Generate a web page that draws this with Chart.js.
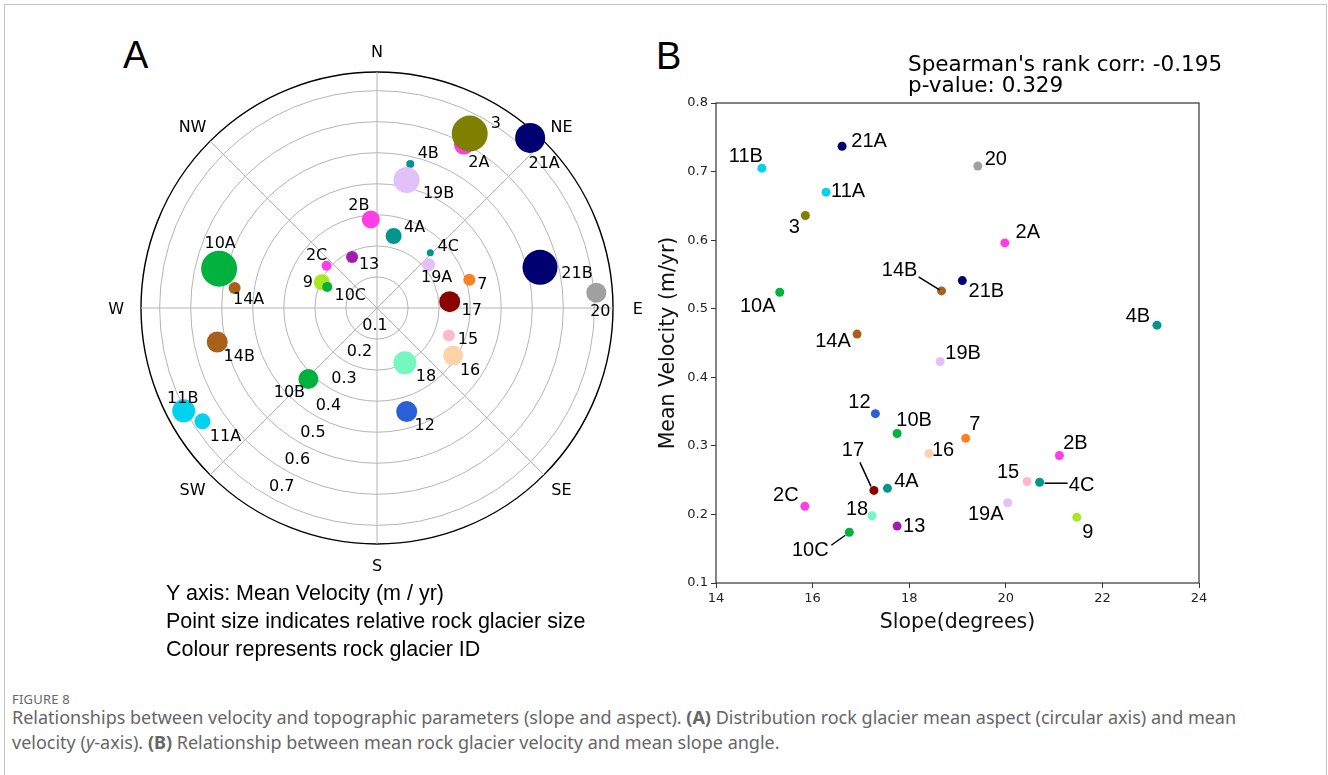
<!DOCTYPE html>
<html>
<head>
<meta charset="utf-8">
<title>Figure 8 - velocity vs aspect and slope</title>
<script src="https://cdn.jsdelivr.net/npm/chart.js"></script>
<style>
  body { margin: 0; width: 1328px; height: 775px; background: #fff; position: relative; overflow: hidden;
         font-family: "Liberation Sans", Arial, sans-serif; color: #000; }
  .frame { position: absolute; left: 4px; top: 4px; width: 1321px; height: 820px; border: 1px solid #c4c4c4; }
  .abs { position: absolute; white-space: nowrap; }
  .panel { font-size: 38px; line-height: 38px; }
  .notes { left: 166px; top: 580px; font-size: 21.5px; line-height: 27.8px; }
  .stats { left: 908px; top: 53px; font-family: "DejaVu Sans"; font-size: 21.5px; line-height: 21px; }
  canvas { position: absolute; }
  .fig { left: 12px; top: 691px; font-family: "Noto Sans"; font-size: 13px; line-height: 16px; color: #666; letter-spacing: 0.2px; }
  .cap { left: 12px; top: 705px; font-family: "Noto Sans"; font-size: 18px; line-height: 25px; color: #666; letter-spacing: 0px; }
</style>
</head>
<body>
<div class="frame"></div>

<div class="abs panel" style="left:123px; top:36px;">A</div>
<div class="abs panel" style="left:656px; top:37px;">B</div>

<canvas id="polar" width="560" height="560" style="left:97px; top:28px;"></canvas>
<canvas id="slope" width="580" height="545" style="left:640px; top:90px;"></canvas>

<div class="abs notes">Y axis: Mean Velocity (m / yr)<br>Point size indicates relative rock glacier size<br>Colour represents rock glacier ID</div>
<div class="abs stats">Spearman's rank corr: -0.195<br>p-value: 0.329</div>

<div class="abs fig">FIGURE 8</div>
<div class="abs cap">Relationships between velocity and topographic parameters (slope and aspect). <b>(A)</b> Distribution rock glacier mean aspect (circular axis) and mean<br>velocity (<i>y</i>-axis). <b>(B)</b> Relationship between mean rock glacier velocity and mean slope angle.</div>

<script>
// rock glacier data
const ids       = ['2A','2B','2C','3','4A','4B','4C','7','9','10A','10B','10C','11A','11B','12','13','14A','14B','15','16','17','18','19A','19B','20','21A','21B'];
const aspectDeg = [28, 356, 310, 28, 13, 13, 44, 73, 295, 284, 224, 293, 237, 242, 164, 334, 278, 258, 111, 122, 85, 153, 50, 13, 86, 42, 76];
const velocity  = [0.596, 0.286, 0.212, 0.636, 0.238, 0.476, 0.247, 0.311, 0.196, 0.524, 0.318, 0.174, 0.670, 0.705, 0.347, 0.183, 0.463, 0.526, 0.248, 0.289, 0.235, 0.198, 0.217, 0.423, 0.708, 0.737, 0.541];
const slopeDeg  = [19.98, 21.11, 15.84, 15.85, 17.55, 23.13, 20.70, 19.17, 21.47, 15.32, 17.75, 16.76, 16.28, 14.95, 17.30, 17.75, 16.92, 18.67, 20.44, 18.41, 17.27, 17.23, 20.04, 18.64, 19.42, 16.61, 19.10];
const relSize   = [10, 9, 5, 18, 8, 4, 3.5, 6, 8, 18, 10, 5, 8, 11.5, 10.5, 6, 6, 10.5, 6, 10, 10.5, 11.5, 6.5, 13, 10, 15, 17.5];

const compassLabels = ['N', 'NE', 'E', 'SE', 'S', 'SW', 'W', 'NW'];
const ringTicks = [0.1, 0.2, 0.3, 0.4, 0.5, 0.6, 0.7];
const angleLabels = Array.from({length: 360}, (_, i) => i);

const colours = {
  '2A': '#ff3ee8', '2B': '#ff3ee8', '2C': '#ff3ee8', '3': '#808000',
  '4A': '#00968c', '4B': '#00968c', '4C': '#00968c', '7': '#ff8020', '9': '#a8e81e',
  '10A': '#00b13e', '10B': '#00b13e', '10C': '#00b13e', '11A': '#00d2f0', '11B': '#00d2f0',
  '12': '#2a5fd8', '13': '#a21caf', '14A': '#a8601a', '14B': '#a8601a', '15': '#ffb8cc',
  '16': '#ffd3a8', '17': '#8b0000', '18': '#76f7c0', '19A': '#e2c0f8', '19B': '#e2c0f8',
  '20': '#a0a0a0', '21A': '#000070', '21B': '#000070'
};

// label offsets (px from the marker centre)
const offA = {
  '3': [26, -10], '2A': [15, 18], '21A': [14, 26], '4B': [18, -10], '19B': [32, 14], '2B': [-12, -14],
  '4A': [21, -8], '4C': [18, -6], '19A': [8, 13], '13': [17, 8], '2C': [-10, -10], '9': [-14, 1],
  '10C': [23, 9], '10A': [1, -25], '14A': [14, 12], '14B': [22, 15], '10B': [-19, 14], '11B': [-1, -12],
  '11A': [23, 16], '12': [18, 14], '18': [21, 14], '16': [17, 15], '15': [19, 4], '17': [22, 9],
  '7': [13, 5], '21B': [37, 6], '20': [4, 19]
};
const offB = {
  '11B': [-16, -12], '21A': [27, -5], '20': [18, -7], '11A': [22, -1], '3': [-11, 12], '2A': [23, -10],
  '14B': [-42, -20], '21B': [24, 11], '10A': [-22, 14], '4B': [-19, -9], '14A': [-24, 7], '19B': [23, -8],
  '12': [-16, -11], '10B': [17, -13], '7': [9, -14], '16': [14, -3], '2B': [16, -12], '15': [-19, -9],
  '4C': [42, 3], '17': [-21, -40], '4A': [19, -7], '19A': [-22, 12], '2C': [-19, -11], '18': [-15, -6],
  '9': [11, 15], '13': [17, 0], '10C': [-39, 18]
};
const leadersB = { '14B': [-23, -14, -2, -1], '17': [-14, -28, -3, -4], '10C': [-18, 13, -4, 3], '4C': [5, 1, 28, 1] };

// ---------- panel A: polar (radar) ----------
const polarDatasets = [];
for (let i = ids.length - 1; i >= 0; i--) {
  const d = new Array(360).fill(null);
  d[Math.round(aspectDeg[i]) % 360] = velocity[i];
  polarDatasets.push({
    label: ids[i], data: d,
    backgroundColor: colours[ids[i]], borderColor: colours[ids[i]],
    pointRadius: relSize[i], pointBorderWidth: 0, showLine: false, fill: false, clip: false
  });
}

const polarText = {
  id: 'polarText',
  afterDraw(chart) {
    const r = chart.scales.r;
    const ctx = chart.ctx;
    ctx.save();
    ctx.font = '16px "DejaVu Sans"';
    ctx.fillStyle = '#000';
    ctx.textAlign = 'center';
    ctx.textBaseline = 'middle';
    compassLabels.forEach((c, k) => {
      const p = r.getPointPosition(k * 45, r.drawingArea + 21);
      ctx.fillText(c, r.xCenter + (p.x - r.xCenter) * 1.015, p.y + 1.5);
    });
    ringTicks.forEach(v => {
      const p = r.getPointPositionForValue(210, v);
      ctx.fillText(v.toFixed(1), p.x + 13.5, p.y - 9.5);
    });
    chart.data.datasets.forEach((ds, di) => {
      const idx = ds.data.findIndex(v => v !== null);
      const el = chart.getDatasetMeta(di).data[idx];
      const o = offA[ds.label];
      ctx.fillText(ds.label, el.x + o[0], el.y + o[1]);
    });
    ctx.restore();
  }
};

new Chart(document.getElementById('polar'), {
  type: 'radar',
  data: { labels: angleLabels, datasets: polarDatasets },
  options: {
    responsive: false, animation: false, events: [],
    layout: { padding: 44 },
    plugins: { legend: { display: false }, tooltip: { enabled: false } },
    scales: {
      r: {
        min: 0, max: 0.76,
        ticks: { display: false, stepSize: 0.1 },
        pointLabels: { display: false },
        grid: {
          circular: true,
          color: c => (c.tick && c.tick.value > 0.75) ? '#000' : '#b4b4b4',
          lineWidth: c => (c.tick && c.tick.value > 0.75) ? 1.4 : 1
        },
        angleLines: { color: '#b4b4b4', lineWidth: c => (c.index % 45 === 0 ? 1 : 0) }
      }
    }
  },
  plugins: [polarText]
});

// ---------- panel B: slope vs velocity ----------
const frameBox = {
  id: 'frameBox',
  beforeDatasetsDraw(chart) {
    const a = chart.chartArea, ctx = chart.ctx;
    ctx.save();
    ctx.strokeStyle = '#333';
    ctx.lineWidth = 1.2;
    ctx.strokeRect(a.left, a.top, a.right - a.left, a.bottom - a.top);
    ctx.restore();
  }
};
const slopeText = {
  id: 'slopeText',
  afterDatasetsDraw(chart) {
    const ctx = chart.ctx;
    const pts = chart.getDatasetMeta(0).data;
    ctx.save();
    ctx.font = '20px "Liberation Sans"';
    ctx.fillStyle = '#000';
    ctx.strokeStyle = '#000';
    ctx.lineWidth = 1.5;
    ctx.textAlign = 'center';
    ctx.textBaseline = 'middle';
    ids.forEach((id, i) => {
      const p = pts[i], o = offB[id];
      ctx.fillText(id, p.x + o[0], p.y + o[1]);
      const l = leadersB[id];
      if (l) {
        ctx.beginPath();
        ctx.moveTo(p.x + l[0], p.y + l[1]);
        ctx.lineTo(p.x + l[2], p.y + l[3]);
        ctx.stroke();
      }
    });
    ctx.restore();
  }
};

const tickFont = { family: 'DejaVu Sans', size: 13 };
const titleFont = { family: 'DejaVu Sans', size: 20.5 };

new Chart(document.getElementById('slope'), {
  type: 'scatter',
  data: {
    datasets: [{
      data: ids.map((id, i) => ({ x: slopeDeg[i], y: velocity[i] })),
      backgroundColor: ids.map(id => colours[id]),
      pointRadius: 4.5, pointBorderWidth: 0
    }]
  },
  options: {
    responsive: false, animation: false, events: [],
    layout: { padding: { top: 13, right: 21, left: 0, bottom: 0 } },
    plugins: { legend: { display: false }, tooltip: { enabled: false } },
    scales: {
      x: {
        type: 'linear', min: 14, max: 24,
        ticks: { stepSize: 2, color: '#222', font: tickFont, padding: 3, maxRotation: 0 },
        grid: { drawOnChartArea: false, tickLength: 5, color: '#333' },
        border: { display: false },
        title: { display: true, text: 'Slope(degrees)', color: '#111', font: titleFont, padding: { top: 0, bottom: 0 } },
        afterFit: s => { s.height = 52; }
      },
      y: {
        type: 'linear', min: 0.1, max: 0.8,
        ticks: { stepSize: 0.1, color: '#222', font: tickFont, padding: 3, callback: v => v.toFixed(1) },
        grid: { drawOnChartArea: false, tickLength: 5, color: '#333' },
        border: { display: false },
        title: { display: true, text: 'Mean Velocity (m/yr)', color: '#111', font: titleFont, padding: { top: 16, bottom: 0 } },
        afterFit: s => { s.width = 76; }
      }
    }
  },
  plugins: [frameBox, slopeText]
});
</script>
</body>
</html>
